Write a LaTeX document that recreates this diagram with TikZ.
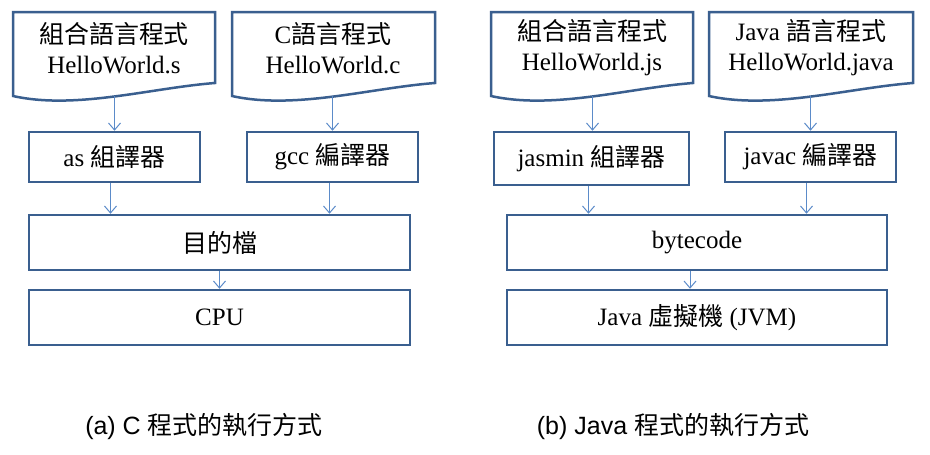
\documentclass[tikz,border=0pt]{standalone}
\usepackage{fontspec}
\setmainfont{Liberation Serif}
\newfontfamily\cjk{Noto Sans CJK TC}
\newfontfamily\capfont{Liberation Sans}
\usetikzlibrary{arrows.meta}
\definecolor{boxline}{HTML}{3A5F8F}
\definecolor{arrline}{HTML}{5B8BC9}
\tikzset{
  boxnode/.style={draw=boxline, line width=2.5pt, fill=white, inner sep=0pt,
    font=\fontsize{25}{30}\selectfont},
  doctext/.style={align=center, inner sep=0pt, font=\fontsize{25}{30}\selectfont},
  docshape/.style={draw=boxline, line width=2.5pt, fill=white, line join=miter},
  arr/.style={draw=arrline, line width=1pt, -{Straight Barb[length=7pt,width=12pt]}},
  captext/.style={inner sep=0pt, font=\capfont\fontsize{25}{30}\selectfont}
}
\begin{document}
\begin{tikzpicture}[x=1pt,y=-1pt]
\useasboundingbox (0,0) rectangle (930,455);
\fill[white] (0,0) rectangle (930,455);

% document shapes
\path[docshape] (13,12) -- (215,12) -- (215,83) .. controls (150.4,88) and (75.6,110) .. (13,96) -- cycle;
\path[docshape] (232,12) -- (435,12) -- (435,83) .. controls (370,88) and (295,110) .. (232,96) -- cycle;
\path[docshape] (491,12) -- (693,12) -- (693,83) .. controls (628,88) and (554,110) .. (491,96) -- cycle;
\path[docshape] (709,12) -- (913,12) -- (913,83) .. controls (848,88) and (772,110) .. (709,96) -- cycle;

\node[doctext] (d1) at (114,48) {{\cjk 組合語言程式}\\HelloWorld.s};
\node[doctext] (d2) at (333,48) {C{\cjk 語言程式}\\HelloWorld.c};
\node[doctext] (d3) at (592,48) {{\cjk 組合語言程式}\\HelloWorld.js};
\node[doctext] (d4) at (811,48) {Java {\cjk 語言程式}\\HelloWorld.java};

\coordinate (d1b) at (114.5,96);
\coordinate (d2b) at (332.5,96);
\coordinate (d3b) at (592.5,96);
\coordinate (d4b) at (810.5,96);

% boxes
\node[boxnode, minimum width=171pt, minimum height=50pt] (as) at (114.5,157) {as {\cjk 組譯器}};
\node[boxnode, minimum width=171pt, minimum height=50pt] (gcc) at (332.5,157) {gcc {\cjk 編譯器}};
\node[boxnode, minimum width=195pt, minimum height=53pt] (jasmin) at (591.5,158.5) {jasmin {\cjk 組譯器}};
\node[boxnode, minimum width=171pt, minimum height=50pt] (javac) at (810.5,157) {javac {\cjk 編譯器}};

\node[boxnode, minimum width=381pt, minimum height=55pt] (obj) at (219.5,242.5) {\cjk 目的檔};
\node[boxnode, minimum width=381pt, minimum height=55pt] (cpu) at (219.5,317.5) {CPU};
\node[boxnode, minimum width=380pt, minimum height=55pt] (bc) at (697,242.5) {bytecode};
\node[boxnode, minimum width=380pt, minimum height=55pt] (jvm) at (697,317.5) {Java {\cjk 虛擬機} (JVM)};

% connectors
\draw[arr] (d1b) -- (d1b |- as.north);
\draw[arr] (d2b) -- (d2b |- gcc.north);
\draw[arr] (d3b) -- (d3b |- jasmin.north);
\draw[arr] (d4b) -- (d4b |- javac.north);
\draw[arr] ([xshift=-4pt]as.south) -- ([xshift=-4pt]as.south |- obj.north);
\draw[arr] ([xshift=-3pt]gcc.south) -- ([xshift=-3pt]gcc.south |- obj.north);
\draw[arr] ([xshift=-3pt]jasmin.south) -- ([xshift=-3pt]jasmin.south |- bc.north);
\draw[arr] ([xshift=-4pt]javac.south) -- ([xshift=-4pt]javac.south |- bc.north);
\draw[arr] (obj.south) -- (cpu.north);
\draw[arr] ([xshift=-7pt]bc.south) -- ([xshift=-7pt]bc.south |- jvm.north);

% captions
\node[captext] (capa) at (204,427) {(a) C {\cjk 程式的執行方式}};
\node[captext] (capb) at (673,427) {(b) Java {\cjk 程式的執行方式}};
\end{tikzpicture}
\end{document}
